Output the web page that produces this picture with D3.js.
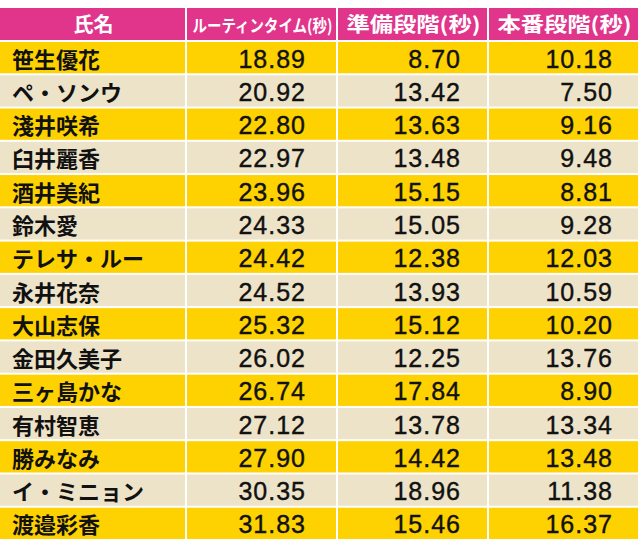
<!DOCTYPE html>
<html lang="ja">
<head>
<meta charset="UTF-8">
<script src="https://d3js.org/d3.v7.min.js"></script>
<style>body{margin:0;background:#fff}</style>
</head>
<body>
<svg width="640" height="551"></svg>
<script>
var headers = ["氏名", "ルーティンタイム(秒)", "準備段階(秒)", "本番段階(秒)"];
var names = ["笹生優花","ペ・ソンウ","淺井咲希","臼井麗香","酒井美紀","鈴木愛","テレサ・ルー","永井花奈","大山志保","金田久美子","三ヶ島かな","有村智恵","勝みなみ","イ・ミニョン","渡邉彩香"];
var routine = ["18.89","20.92","22.80","22.97","23.96","24.33","24.42","24.52","25.32","26.02","26.74","27.12","27.90","30.35","31.83"];
var prep = ["8.70","13.42","13.63","13.48","15.15","15.05","12.38","13.93","15.12","12.25","17.84","13.78","14.42","18.96","15.46"];
var shot = ["10.18","7.50","9.16","9.48","8.81","9.28","12.03","10.59","10.20","13.76","8.90","13.34","13.48","11.38","16.37"];

var svg = d3.select("svg");
var font = "'Noto Sans CJK JP', sans-serif";
var colEdges = [0, 187, 338, 489, 640];
var rows = d3.range(names.length);
var y = d3.scaleBand().domain(rows).range([42, 541]);
var headTop = 8, headBot = 40;

// header
headers.forEach(function(h, i) {
  svg.append("rect").attr("x", colEdges[i]).attr("y", headTop)
    .attr("width", colEdges[i+1] - colEdges[i] - 2).attr("height", headBot - headTop)
    .attr("fill", "#e1358b");
  svg.append("text").attr("x", (colEdges[i] + colEdges[i+1]) / 2).attr("y", 32)
    .attr("text-anchor", "middle").attr("fill", "#fff").attr("font-family", font)
    .attr("font-weight", "bold").attr("font-size", i == 1 ? 17 : 20)
    .attr("textLength", i == 0 ? null : (i == 1 ? 140 : 134))
    .attr("lengthAdjust", "spacingAndGlyphs")
    .text(h);
});

var cols = [names, routine, prep, shot];
var rightX = [null, 306, 461, 613];
rows.forEach(function(r) {
  cols.forEach(function(c, i) {
    svg.append("rect").attr("x", colEdges[i]).attr("y", y(r))
      .attr("width", colEdges[i+1] - colEdges[i] - 2).attr("height", y.bandwidth() - 2)
      .attr("fill", r % 2 == 0 ? "#fed100" : "#ede3c9");
    var t = svg.append("text").attr("y", y(r) + y.bandwidth() / 2 + 9)
      .attr("fill", "#111").attr("font-family", i == 0 ? font : "'Liberation Sans', sans-serif")
      .attr("font-size", 25).attr("stroke", "#111").attr("stroke-width", 0.4).text(c[r]);
    if (i == 0) t.attr("x", 12).attr("font-weight", "bold").attr("font-size", 22).attr("stroke", null);
    else t.attr("x", rightX[i]).attr("text-anchor", "end").attr("letter-spacing", 1);
  });
});
</script>
</body>
</html>
